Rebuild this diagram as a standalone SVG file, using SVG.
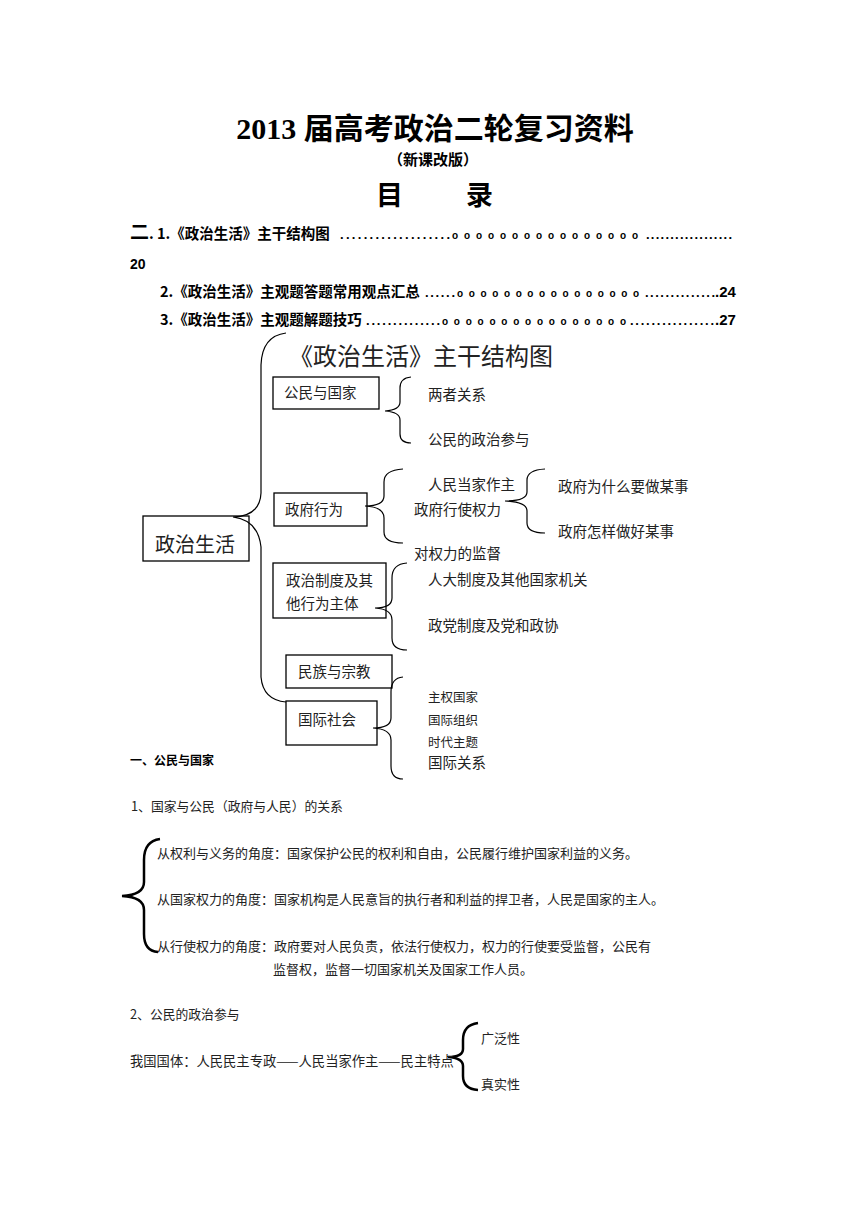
<svg xmlns="http://www.w3.org/2000/svg" width="860" height="1216" viewBox="0 0 860 1216">
<style>
.t{font-family:"Liberation Serif","Noto Sans CJK SC",serif;fill:#000;font-weight:bold}
.c{font-family:"Noto Sans CJK SC",sans-serif;fill:#222}
.b{font-family:"Noto Sans CJK SC",sans-serif;font-weight:bold;fill:#000}
.d{font-family:"Liberation Sans",sans-serif;font-weight:bold;fill:#000}
.box{fill:none;stroke:#000;stroke-width:1.3}
.br{fill:none;stroke:#000;stroke-width:1.2}
.brt{fill:none;stroke:#000;stroke-width:2.5}
</style>
<rect width="860" height="1216" fill="#fff"/>
<g id="header">
<text class="t" x="435" y="139" font-size="30" text-anchor="middle"><tspan font-family="Liberation Serif">2013 </tspan><tspan font-family="Noto Sans CJK SC">届高考政治二轮复习资料</tspan></text>
<text class="b" x="433" y="165" font-size="15" text-anchor="middle">（新课改版）</text>
<text class="b" x="376" y="205" font-size="27">目</text>
<text class="b" x="466" y="205" font-size="27">录</text>
</g>
<g id="toc">
<text class="b" x="130" y="239" font-size="14.5"><tspan font-size="19">二</tspan>. 1.《政治生活》主干结构图</text>
<text class="d" x="340" y="239" font-size="13" textLength="110" lengthAdjust="spacing">...................</text>
<text class="d" x="452" y="239" font-size="10" textLength="186" lengthAdjust="spacing">o o o o o o o o o o o o o o o o</text>
<text class="d" x="646" y="239" font-size="13" textLength="86" lengthAdjust="spacing">..................</text>
<text class="d" x="130" y="269" font-size="14">20</text>
<text class="b" x="160" y="297" font-size="14.5">2.《政治生活》主观题答题常用观点汇总</text>
<text class="d" x="425" y="297" font-size="13" textLength="30" lengthAdjust="spacing">......</text>
<text class="d" x="457" y="297" font-size="10" textLength="182" lengthAdjust="spacing">o o o o o o o o o o o o o o o o</text>
<text class="d" x="645" y="297" font-size="13" textLength="70" lengthAdjust="spacing">..............</text>
<text class="d" x="715" y="297" font-size="15">.24</text>
<text class="b" x="160" y="325" font-size="14.5">3.《政治生活》主观题解题技巧</text>
<text class="d" x="366" y="325" font-size="13" textLength="74" lengthAdjust="spacing">..............</text>
<text class="d" x="442" y="325" font-size="10" textLength="184" lengthAdjust="spacing">o o o o o o o o o o o o o o o o</text>
<text class="d" x="630" y="325" font-size="13" textLength="84" lengthAdjust="spacing">................</text>
<text class="d" x="715" y="325" font-size="15">.27</text>
</g>
<text class="c" x="421" y="365" font-size="24" text-anchor="middle" fill="#111">《政治生活》主干结构图</text>
<g id="connectors">
<path class="br" d="M286 333 Q262 336 261 365 L261 493 Q260 516 233 517 Q258 520 261 547 L261 677 Q263 700 286 702"/>
<path class="br" d="M411 377 Q400 378 400 388 L400 402 Q400 410 385 411 Q400 412 400 420 L400 434 Q400 443 411 443"/>
<path class="br" d="M403 469 Q384 470 384 482 L384 496 Q384 506 365 506 Q384 507 384 518 L384 532 Q384 543 403 543"/>
<path class="br" d="M545 469 Q527 470 527 480 L527 492 Q527 501 505 501 Q527 502 527 511 L527 523 Q527 533 545 533"/>
<path class="br" d="M407 563 Q392 564 392 578 L392 598 Q392 608 375 608 Q392 609 392 620 L392 638 Q392 650 407 650"/>
<path class="br" d="M403 677 Q391 678 391 692 L391 718 Q391 728 373 728 Q391 729 391 740 L391 766 Q391 779 403 779"/>
<path class="brt" d="M160 839 Q144 841 144 860 L144 882 Q144 895 122 896 Q144 897 144 910 L144 934 Q144 951 158 952"/>
<path class="brt" d="M478 1023 Q463 1025 463 1040 L463 1049 Q463 1057 448 1057 Q463 1058 463 1066 L463 1076 Q463 1089 478 1090"/>
</g>
<g id="n-root"><rect class="box" x="143" y="516" width="106" height="45"/><text class="c" x="155" y="552" font-size="20">政治生活</text></g>
<g id="n-gmgj"><rect class="box" x="273" y="377" width="106" height="32"/><text class="c" x="284" y="398" font-size="14.5">公民与国家</text></g>
<g id="n-zfxw"><rect class="box" x="274" y="493" width="93" height="33"/><text class="c" x="285" y="515" font-size="14.5">政府行为</text></g>
<g id="n-zzzd"><rect class="box" x="273" y="563" width="113" height="55"/><text class="c" x="286" y="586" font-size="14.5">政治制度及其</text><text class="c" x="286" y="609" font-size="14.5">他行为主体</text></g>
<g id="n-mzzj"><rect class="box" x="286" y="655" width="106" height="33"/><text class="c" x="298" y="677" font-size="14.5">民族与宗教</text></g>
<g id="n-gjsh"><rect class="box" x="286" y="701" width="91" height="44"/><text class="c" x="298" y="725" font-size="14.5">国际社会</text></g>
<g id="labels">
<text class="c" x="428" y="400" font-size="14.5">两者关系</text>
<text class="c" x="428" y="445" font-size="14.5">公民的政治参与</text>
<text class="c" x="428" y="490" font-size="14.5">人民当家作主</text>
<text class="c" x="414" y="515" font-size="14.5">政府行使权力</text>
<text class="c" x="414" y="559" font-size="14.5">对权力的监督</text>
<text class="c" x="558" y="492" font-size="14.5">政府为什么要做某事</text>
<text class="c" x="558" y="537" font-size="14.5">政府怎样做好某事</text>
<text class="c" x="428" y="585" font-size="14.5">人大制度及其他国家机关</text>
<text class="c" x="428" y="631" font-size="14.5">政党制度及党和政协</text>
<text class="c" x="428" y="702" font-size="12.5">主权国家</text>
<text class="c" x="428" y="725" font-size="12.5">国际组织</text>
<text class="c" x="428" y="747" font-size="12.5">时代主题</text>
<text class="c" x="428" y="768" font-size="14.5">国际关系</text>
</g>
<g id="section">
<text class="b" x="130" y="765" font-size="12">一、公民与国家</text>
<text class="c" x="131" y="811" font-size="12.8">1、国家与公民（政府与人民）的关系</text>
<text class="c" x="157" y="858" font-size="13">从权利与义务的角度：国家保护公民的权利和自由，公民履行维护国家利益的义务。</text>
<text class="c" x="157" y="904" font-size="13">从国家权力的角度：国家机构是人民意旨的执行者和利益的捍卫者，人民是国家的主人。</text>
<text class="c" x="157" y="951" font-size="13">从行使权力的角度：政府要对人民负责，依法行使权力，权力的行使要受监督，公民有</text>
<text class="c" x="273" y="974" font-size="13">监督权，监督一切国家机关及国家工作人员。</text>
<text class="c" x="130" y="1019" font-size="12.8">2、公民的政治参与</text>
<text class="c" x="130" y="1066" font-size="13.3">我国国体：人民民主专政——人民当家作主——民主特点</text>
<text class="c" x="481" y="1043" font-size="13">广泛性</text>
<text class="c" x="481" y="1089" font-size="13">真实性</text>
</g>
</svg>
